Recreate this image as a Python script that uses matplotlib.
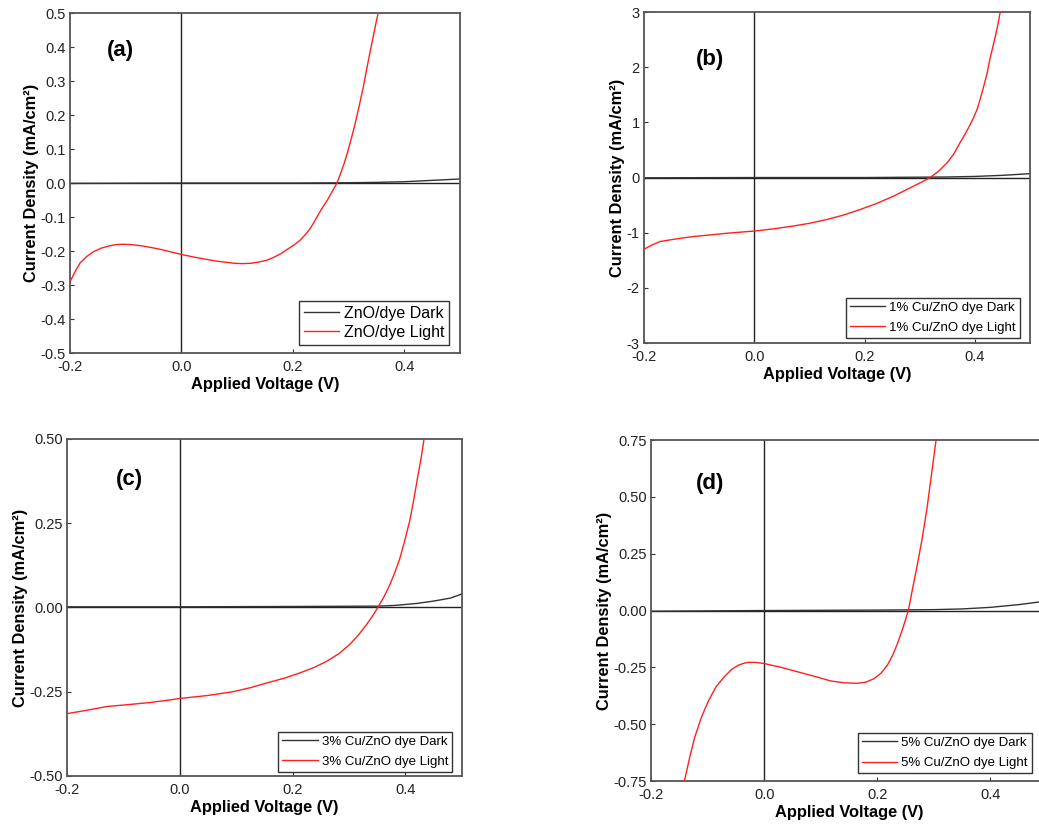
import matplotlib
matplotlib.use("Agg")
import matplotlib.pyplot as plt
from matplotlib.ticker import FormatStrFormatter

plt.rcParams['font.family'] = ['Liberation Sans', 'DejaVu Sans']
plt.rcParams['axes.unicode_minus'] = False

# ---------------- data ----------------
# (a) ZnO/dye
a_light_v = [-0.2, -0.19, -0.182, -0.17, -0.159, -0.145, -0.13, -0.118, -0.105, -0.09, -0.07, -0.05,
             -0.035, -0.018, 0.0, 0.02, 0.04, 0.06, 0.08, 0.095, 0.11, 0.125, 0.14, 0.153, 0.165,
             0.178, 0.19, 0.202, 0.213, 0.222, 0.23, 0.237, 0.243, 0.252, 0.262, 0.27, 0.279,
             0.286, 0.292, 0.298, 0.303, 0.311, 0.318, 0.326, 0.333, 0.339, 0.344, 0.349, 0.353]
a_light_j = [-0.29, -0.258, -0.235, -0.216, -0.203, -0.192, -0.185, -0.181, -0.18, -0.181, -0.185,
             -0.191, -0.196, -0.203, -0.21, -0.217, -0.223, -0.229, -0.233, -0.236, -0.237, -0.236,
             -0.232, -0.227, -0.219, -0.208, -0.195, -0.182, -0.168, -0.152, -0.136, -0.118, -0.1,
             -0.075, -0.05, -0.026, 0.0, 0.03, 0.058, 0.09, 0.12, 0.17, 0.22, 0.28, 0.34, 0.39,
             0.43, 0.47, 0.5]
a_dark_v = [-0.2, 0.0, 0.2, 0.3, 0.35, 0.4, 0.45, 0.5]
a_dark_j = [-0.001, 0.0, 0.0, 0.001, 0.002, 0.004, 0.008, 0.012]

# (b) 1% Cu/ZnO
b_light_v = [-0.2, -0.185, -0.171, -0.14, -0.111, -0.08, -0.05, -0.025, 0.0, 0.035, 0.07, 0.1,
             0.132, 0.162, 0.192, 0.222, 0.252, 0.27, 0.288, 0.304, 0.319, 0.335, 0.35, 0.362,
             0.373, 0.382, 0.39, 0.397, 0.404, 0.41, 0.416, 0.422, 0.427, 0.432, 0.437, 0.442, 0.446]
b_light_j = [-1.30, -1.22, -1.16, -1.11, -1.07, -1.04, -1.01, -0.99, -0.97, -0.93, -0.88, -0.83,
             -0.76, -0.68, -0.58, -0.47, -0.34, -0.25, -0.16, -0.08, 0.0, 0.12, 0.27, 0.43,
             0.63, 0.78, 0.93, 1.07, 1.23, 1.43, 1.65, 1.88, 2.13, 2.34, 2.55, 2.78, 3.0]
b_dark_v = [-0.2, 0.0, 0.2, 0.35, 0.4, 0.45, 0.5]
b_dark_j = [-0.005, 0.0, 0.0, 0.01, 0.02, 0.04, 0.07]

# (c) 3% Cu/ZnO
c_light_v = [-0.2, -0.165, -0.13, -0.09, -0.053, -0.025, 0.0, 0.05, 0.094, 0.125, 0.154, 0.185,
             0.213, 0.238, 0.26, 0.282, 0.301, 0.316, 0.33, 0.341, 0.351, 0.362, 0.372, 0.381,
             0.39, 0.399, 0.408, 0.415, 0.422, 0.428, 0.433]
c_light_j = [-0.315, -0.305, -0.294, -0.288, -0.282, -0.276, -0.27, -0.261, -0.25, -0.238, -0.224,
             -0.21, -0.194, -0.178, -0.16, -0.137, -0.11, -0.083, -0.053, -0.027, 0.0, 0.032,
             0.066, 0.103, 0.145, 0.2, 0.26, 0.322, 0.39, 0.445, 0.5]
c_dark_v = [-0.2, 0.0, 0.2, 0.35, 0.38, 0.42, 0.45, 0.48, 0.5]
c_dark_j = [0.002, 0.002, 0.003, 0.004, 0.006, 0.012, 0.019, 0.028, 0.04]

# (d) 5% Cu/ZnO
d_light_v = [-0.141, -0.132, -0.123, -0.111, -0.099, -0.085, -0.07, -0.057, -0.045, -0.036, -0.028,
             -0.015, 0.0, 0.03, 0.06, 0.09, 0.118, 0.142, 0.165, 0.18, 0.194, 0.207, 0.218,
             0.227, 0.235, 0.245, 0.255, 0.262, 0.27, 0.279, 0.288, 0.296, 0.304]
d_light_j = [-0.75, -0.65, -0.56, -0.47, -0.40, -0.335, -0.29, -0.258, -0.24, -0.232, -0.228,
             -0.228, -0.233, -0.25, -0.27, -0.29, -0.31, -0.318, -0.32, -0.315, -0.30, -0.275,
             -0.24, -0.198, -0.15, -0.08, 0.0, 0.09, 0.19, 0.31, 0.45, 0.6, 0.75]
d_dark_v = [-0.2, 0.0, 0.2, 0.3, 0.35, 0.4, 0.45, 0.5]
d_dark_j = [-0.003, 0.0, 0.002, 0.004, 0.007, 0.014, 0.026, 0.042]

x_ticks = [-0.2, 0.0, 0.2, 0.4]

panels = [
    dict(tag='(a)', pos=[0.0674, 0.5721, 0.3754, 0.412], ylim=(-0.5, 0.5),
         yticks=[-0.5, -0.4, -0.3, -0.2, -0.1, 0.0, 0.1, 0.2, 0.3, 0.4, 0.5], yfmt='%.1f',
         lv=a_light_v, lj=a_light_j, dv=a_dark_v, dj=a_dark_j,
         names=('ZnO/dye Dark', 'ZnO/dye Light'), lfs=11.5, lsp=0.25, hl=2.2,
         tagxy=(0.128, 0.891), legxy=(0.972, 0.024)),
    dict(tag='(b)', pos=[0.6198, 0.5842, 0.3715, 0.4012], ylim=(-3, 3),
         yticks=[-3, -2, -1, 0, 1, 2, 3], yfmt='%d',
         lv=b_light_v, lj=b_light_j, dv=b_dark_v, dj=b_dark_j,
         names=('1% Cu/ZnO dye Dark', '1% Cu/ZnO dye Light'), lfs=9.5, lsp=0.6, hl=2.7,
         tagxy=(0.171, 0.858), legxy=(0.974, 0.015)),
    dict(tag='(c)', pos=[0.0645, 0.0594, 0.380, 0.4085], ylim=(-0.5, 0.5),
         yticks=[-0.5, -0.25, 0.0, 0.25, 0.5], yfmt='%.2f',
         lv=c_light_v, lj=c_light_j, dv=c_dark_v, dj=c_dark_j,
         names=('3% Cu/ZnO dye Dark', '3% Cu/ZnO dye Light'), lfs=9.5, lsp=0.6, hl=2.7,
         tagxy=(0.157, 0.881), legxy=(0.975, 0.012)),
    dict(tag='(d)', pos=[0.6266, 0.0533, 0.381, 0.4133], ylim=(-0.75, 0.75),
         yticks=[-0.75, -0.5, -0.25, 0.0, 0.25, 0.5, 0.75], yfmt='%.2f',
         lv=d_light_v, lj=d_light_j, dv=d_dark_v, dj=d_dark_j,
         names=('5% Cu/ZnO dye Dark', '5% Cu/ZnO dye Light'), lfs=9.5, lsp=0.6, hl=2.7,
         tagxy=(0.149, 0.874), legxy=(0.962, 0.023)),
]

fig = plt.figure(figsize=(10.39, 8.25), dpi=100)

for p in panels:
    ax = fig.add_axes(p['pos'])
    ax.axhline(0, color='#222222', lw=1.0, zorder=1)
    ax.axvline(0, color='#222222', lw=1.0, zorder=1)
    ax.plot(p['dv'], p['dj'], color='#333333', lw=1.0, label=p['names'][0], zorder=2)
    ax.plot(p['lv'], p['lj'], color='#ff2020', lw=1.0, label=p['names'][1], zorder=3)
    ax.set_xlim(-0.2, 0.5)
    ax.set_ylim(*p['ylim'])
    ax.set_xticks(x_ticks)
    ax.set_yticks(p['yticks'])
    ax.xaxis.set_major_formatter(FormatStrFormatter('%.1f'))
    ax.yaxis.set_major_formatter(FormatStrFormatter(p['yfmt']))
    ax.tick_params(direction='in', length=3, labelsize=10.5, colors='#333333',
                   labelcolor='#222222', pad=3)
    ax.tick_params(axis='x', pad=5)
    for s in ax.spines.values():
        s.set_color('#555555')
        s.set_linewidth(1.3)
    ax.set_xlabel('Applied Voltage (V)', fontsize=11.8, fontweight='bold', labelpad=2)
    ax.set_ylabel('Current Density (mA/cm²)', fontsize=11.8, fontweight='bold', labelpad=1)
    ax.text(p['tagxy'][0], p['tagxy'][1], p['tag'], transform=ax.transAxes, fontsize=16,
            fontweight='bold', ha='center', va='center')
    leg = ax.legend(loc='lower right', bbox_to_anchor=p['legxy'], fontsize=p['lfs'],
                    frameon=True, fancybox=False, edgecolor='#333333', framealpha=1,
                    borderpad=0.3, handlelength=p['hl'], handletextpad=0.3,
                    labelspacing=p['lsp'], borderaxespad=0)
    leg.get_frame().set_linewidth(1.0)

fig.savefig('out.png', dpi=100)
